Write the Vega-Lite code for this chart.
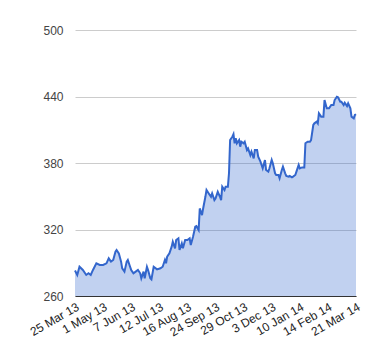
{
  "$schema": "https://vega.github.io/schema/vega-lite/v6.json",
  "autosize": "none",
  "width": 281,
  "height": 266,
  "padding": {"left": 75, "top": 30, "right": 24, "bottom": 64},
  "background": "white",
  "config": {"view": {"stroke": null}, "font": "Liberation Sans"},
  "data": {"values": [
    {"day": 0, "price": 283}, {"day": 2, "price": 279}, {"day": 4, "price": 286.4}, {"day": 7, "price": 283.5},
    {"day": 10, "price": 279}, {"day": 12, "price": 280.5}, {"day": 14, "price": 279}, {"day": 16, "price": 283.5},
    {"day": 19, "price": 289.5}, {"day": 22, "price": 288}, {"day": 25, "price": 288}, {"day": 28, "price": 289.5},
    {"day": 30, "price": 294}, {"day": 32, "price": 291}, {"day": 34, "price": 292.5}, {"day": 36, "price": 300},
    {"day": 37, "price": 301.5}, {"day": 39, "price": 298.5}, {"day": 41, "price": 291}, {"day": 42, "price": 285},
    {"day": 44, "price": 282}, {"day": 46, "price": 291}, {"day": 47, "price": 292.5}, {"day": 49, "price": 286.4},
    {"day": 50, "price": 283.5}, {"day": 52, "price": 280.5}, {"day": 54, "price": 282}, {"day": 56, "price": 283.5},
    {"day": 58, "price": 280.5}, {"day": 59, "price": 276}, {"day": 61, "price": 282}, {"day": 62, "price": 276},
    {"day": 64, "price": 286.4}, {"day": 65, "price": 283.5}, {"day": 67, "price": 276}, {"day": 68, "price": 275},
    {"day": 70, "price": 286.4}, {"day": 73, "price": 284}, {"day": 76, "price": 285}, {"day": 78, "price": 286.4},
    {"day": 80, "price": 292.5}, {"day": 81, "price": 289.5}, {"day": 82, "price": 295.5}, {"day": 84, "price": 298.5},
    {"day": 86, "price": 304.5}, {"day": 87, "price": 309}, {"day": 89, "price": 303}, {"day": 90, "price": 310.5},
    {"day": 92, "price": 312}, {"day": 93, "price": 301.5}, {"day": 95, "price": 307.5}, {"day": 96, "price": 303},
    {"day": 98, "price": 310.5}, {"day": 100, "price": 310.5}, {"day": 102, "price": 312}, {"day": 103, "price": 306},
    {"day": 105, "price": 313.5}, {"day": 107, "price": 322.5}, {"day": 108, "price": 323}, {"day": 110, "price": 319.5},
    {"day": 111, "price": 339}, {"day": 113, "price": 333}, {"day": 114, "price": 339}, {"day": 116, "price": 349.5},
    {"day": 117, "price": 355.6}, {"day": 119, "price": 352.5}, {"day": 121, "price": 349.5}, {"day": 122, "price": 352.5},
    {"day": 124, "price": 346.5}, {"day": 125, "price": 348}, {"day": 127, "price": 354}, {"day": 129, "price": 349.5},
    {"day": 130, "price": 346.5}, {"day": 131, "price": 358.6}, {"day": 133, "price": 355.6}, {"day": 134, "price": 358.6},
    {"day": 136, "price": 358.6}, {"day": 137, "price": 370.7}, {"day": 138, "price": 400.7}, {"day": 140, "price": 403.7},
    {"day": 141, "price": 406}, {"day": 142, "price": 397.8}, {"day": 143, "price": 402.3}, {"day": 144, "price": 397.8},
    {"day": 146, "price": 400.7}, {"day": 147, "price": 394.7}, {"day": 148, "price": 399.2}, {"day": 150, "price": 397.8},
    {"day": 151, "price": 399.2}, {"day": 153, "price": 391.7}, {"day": 154, "price": 393.2}, {"day": 156, "price": 387.2},
    {"day": 157, "price": 390.2}, {"day": 159, "price": 384.2}, {"day": 160, "price": 391.7}, {"day": 162, "price": 391.7},
    {"day": 163, "price": 385.7}, {"day": 165, "price": 381.2}, {"day": 166, "price": 378.2}, {"day": 167, "price": 375.2},
    {"day": 169, "price": 382.7}, {"day": 170, "price": 373.7}, {"day": 172, "price": 372.2}, {"day": 173, "price": 375.2},
    {"day": 175, "price": 382.7}, {"day": 176, "price": 379.7}, {"day": 178, "price": 370.7}, {"day": 179, "price": 369.2},
    {"day": 181, "price": 369.2}, {"day": 182, "price": 366.2}, {"day": 184, "price": 373.7}, {"day": 185, "price": 376.7},
    {"day": 187, "price": 370.7}, {"day": 188, "price": 368.3}, {"day": 190, "price": 367.7}, {"day": 191, "price": 368.3},
    {"day": 193, "price": 367}, {"day": 194, "price": 367.7}, {"day": 196, "price": 369.2}, {"day": 197, "price": 372.2},
    {"day": 199, "price": 378.2}, {"day": 200, "price": 375.2}, {"day": 202, "price": 376}, {"day": 204, "price": 376},
    {"day": 205, "price": 397.8}, {"day": 207, "price": 399.2}, {"day": 209, "price": 399.2}, {"day": 210, "price": 400.7},
    {"day": 212, "price": 414.3}, {"day": 213, "price": 415.8}, {"day": 215, "price": 417.3}, {"day": 216, "price": 415.8},
    {"day": 217, "price": 424.8}, {"day": 219, "price": 421.8}, {"day": 221, "price": 421.8}, {"day": 222, "price": 436.8},
    {"day": 224, "price": 429.3}, {"day": 226, "price": 429.3}, {"day": 228, "price": 432.3}, {"day": 230, "price": 432.3},
    {"day": 231, "price": 436.8}, {"day": 233, "price": 439.8}, {"day": 234, "price": 439.3}, {"day": 236, "price": 435.3},
    {"day": 237, "price": 435.3}, {"day": 239, "price": 432.3}, {"day": 240, "price": 434.4}, {"day": 242, "price": 431.4},
    {"day": 243, "price": 433.9}, {"day": 245, "price": 429.3}, {"day": 246, "price": 421.8}, {"day": 248, "price": 420.3},
    {"day": 249, "price": 423.3}, {"day": 250, "price": 424}
  ]},
  "mark": {
    "type": "area",
    "color": "#3366cc",
    "fillOpacity": 0.3,
    "line": {"color": "#3366cc", "strokeWidth": 2}
  },
  "encoding": {
    "x": {
      "field": "day",
      "type": "quantitative",
      "scale": {"domain": [0, 250], "nice": false, "zero": false},
      "axis": {
        "title": null,
        "values": [0, 25, 50, 75, 100, 125, 150, 175, 200, 225, 250],
        "labelExpr": "['25 Mar 13','1 May 13','7 Jun 13','12 Jul 13','16 Aug 13','24 Sep 13','29 Oct 13','3 Dec 13','10 Jan 14','14 Feb 14','21 Mar 14'][round(datum.value/25)]",
        "labelAngle": -30,
        "labelAlign": "right",
        "labelBaseline": "top",
        "labelFontSize": 12,
        "labelColor": "#222222",
        "labelPadding": 5,
        "labelOverlap": false,
        "labelFlush": false,
        "ticks": false,
        "grid": false,
        "domainColor": "#333333",
        "domainWidth": 1,
        "zindex": 1
      }
    },
    "y": {
      "field": "price",
      "type": "quantitative",
      "scale": {"domain": [260, 500], "nice": false, "zero": false},
      "axis": {
        "title": null,
        "values": [260, 320, 380, 440, 500],
        "labelFontSize": 12,
        "labelColor": "#444444",
        "labelPadding": 12,
        "ticks": false,
        "domain": false,
        "gridColor": "#cccccc",
        "gridOpacity": 1
      }
    },
    "y2": {"datum": 260}
  }
}
